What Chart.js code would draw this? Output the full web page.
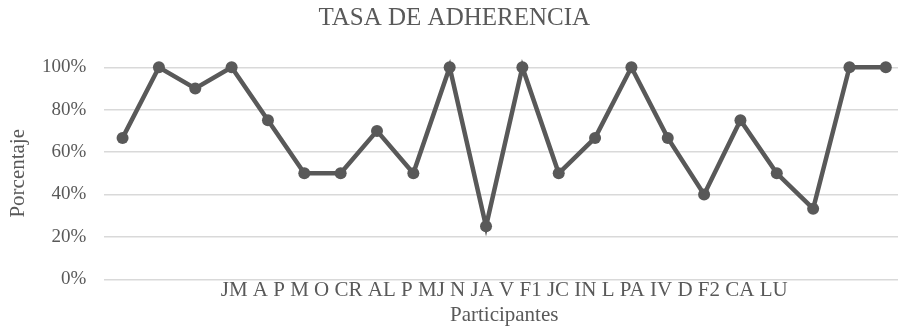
<!DOCTYPE html>
<html>
<head>
<meta charset="utf-8">
<script src="https://cdn.jsdelivr.net/npm/chart.js@4/dist/chart.umd.min.js"></script>
<style>
  html, body { margin: 0; padding: 0; background: #fff; overflow: hidden; }
  #wrap { width: 910px; height: 336px; }
</style>
</head>
<body>
<div id="wrap"><canvas id="c" width="910" height="336"></canvas></div>
<script>
// Participant codes (x categories)
const participantes = ['JM', 'A', 'P', 'M', 'O', 'CR', 'AL', 'P', 'MJ', 'N', 'JA', 'V',
                       'F1', 'JC', 'IN', 'L', 'PA', 'IV', 'D', 'F2', 'CA', 'LU'];
// Adherence rate per participant, in percent
const adherencia = [66.7, 100, 90, 100, 75, 50, 50, 70, 50, 100, 25, 100,
                    50, 66.7, 100, 66.7, 40, 75, 50, 33.3, 100, 100];
// Y-axis tick values
const yTicks = [0, 20, 40, 60, 80, 100];

const SERIF = "'Liberation Serif', 'Times New Roman', serif";
const INK = '#595959';

// Participant codes written as one line beneath the plot
const codeLine = {
  id: 'codeLine',
  afterDraw(chart) {
    const { ctx, chartArea } = chart;
    ctx.save();
    ctx.font = '21px ' + SERIF;
    ctx.fillStyle = INK;
    ctx.textAlign = 'center';
    ctx.textBaseline = 'alphabetic';
    ctx.fillText(participantes.join(' '), (chartArea.left + chartArea.right) / 2, chartArea.bottom + 16.7);
    ctx.restore();
  }
};

new Chart(document.getElementById('c'), {
  type: 'line',
  data: {
    labels: participantes,
    datasets: [{
      data: adherencia,
      borderColor: INK,
      backgroundColor: INK,
      borderWidth: 4.5,
      tension: 0,
      clip: false,
      pointRadius: 6,
      pointHoverRadius: 6,
      pointBackgroundColor: INK,
      pointBorderWidth: 0
    }]
  },
  options: {
    responsive: false,
    animation: false,
    devicePixelRatio: 1,
    layout: { padding: { left: 0, right: 1.4, top: 0, bottom: 0 } },
    plugins: {
      legend: { display: false },
      tooltip: { enabled: false },
      title: {
        display: true,
        text: 'TASA DE ADHERENCIA',
        color: INK,
        font: { family: SERIF, size: 25, weight: 'normal' },
        padding: { top: 3.3, bottom: 34 }
      }
    },
    scales: {
      x: {
        type: 'category',
        offset: true,
        grid: { display: false, drawTicks: false },
        border: { display: false },
        ticks: { display: false },
        title: {
          display: true,
          text: 'Participantes',
          color: INK,
          font: { family: SERIF, size: 21 },
          padding: { top: 0, bottom: 8 }
        },
        afterFit(scale) { scale.height = 56.7; }
      },
      y: {
        min: 0,
        max: 100,
        afterBuildTicks(scale) { scale.ticks = yTicks.map(v => ({ value: v })); },
        grid: { color: '#d9d9d9', lineWidth: 1.5, drawTicks: false },
        border: { display: false },
        ticks: {
          color: INK,
          padding: 18,
          font: { family: SERIF, size: 19 },
          callback: v => v + '%'
        },
        title: {
          display: true,
          text: 'Porcentaje',
          color: INK,
          font: { family: SERIF, size: 21 },
          padding: { top: 6, bottom: 0 }
        },
        afterFit(scale) { scale.width = 104.4; }
      }
    }
  },
  plugins: [codeLine]
});
</script>
</body>
</html>
